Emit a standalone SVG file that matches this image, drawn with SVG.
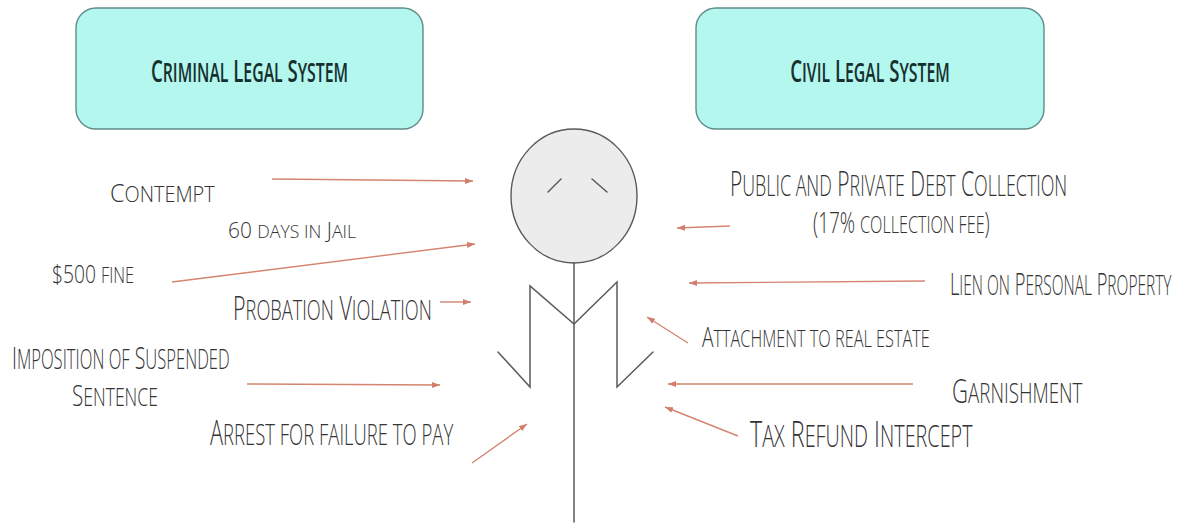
<svg xmlns="http://www.w3.org/2000/svg" width="1177" height="525" viewBox="0 0 1177 525">
<defs>
<style>
.box{fill:#b3f7ee;stroke:#5f8c89;stroke-width:1.4}
.title{font-family:"Open Sans","Liberation Sans",sans-serif;font-size:31px;font-weight:600;fill:#17302e;text-anchor:middle}
.lbl{font-family:"Open Sans","Liberation Sans",sans-serif;font-weight:300;fill:#333333}
.s{font-size:85%}
.fig{fill:none;stroke:#5a5a5a;stroke-width:1.5;stroke-linecap:round;stroke-linejoin:miter}
.arr{fill:none;stroke:#d48571;stroke-width:1.4;marker-end:url(#ah)}
</style>
<marker id="ah" markerUnits="userSpaceOnUse" markerWidth="9" markerHeight="7" refX="8" refY="3.5" orient="auto">
<path d="M0,0.5 L8,3.5 L0,6.5 z" fill="#cf7f6c"/>
</marker>
</defs>
<rect width="1177" height="525" fill="#ffffff"/>

<g id="criminal-legal-system">
<rect class="box" x="76" y="8" width="347" height="121" rx="20"/>
<text class="title" transform="translate(249.5,82) scale(0.6,1)">C<tspan class="s">RIMINAL</tspan> L<tspan class="s">EGAL</tspan> S<tspan class="s">YSTEM</tspan></text>
</g>

<g id="civil-legal-system">
<rect class="box" x="696" y="8" width="348" height="121" rx="20"/>
<text class="title" transform="translate(870,82) scale(0.6,1)">C<tspan class="s">IVIL</tspan> L<tspan class="s">EGAL</tspan> S<tspan class="s">YSTEM</tspan></text>
</g>

<g id="person">
<ellipse cx="574" cy="196" rx="63" ry="67" fill="#ececec" stroke="#5a5a5a" stroke-width="1.4"/>
<line class="fig" x1="548" y1="192" x2="561" y2="179"/>
<line class="fig" x1="592" y1="179" x2="607" y2="192"/>
<line class="fig" x1="574" y1="263" x2="574" y2="522"/>
<polyline class="fig" points="498,352 530,387 530,286 574,324 617,282 617,387 653,352"/>
</g>

<g id="labels">
<text class="lbl" transform="translate(110,202) scale(0.9,1)" font-size="26">C<tspan class="s">ONTEMPT</tspan></text>
<text class="lbl" transform="translate(228,238) scale(0.95,1)" font-size="22">60 <tspan class="s">DAYS IN</tspan> J<tspan class="s">AIL</tspan></text>
<text class="lbl" transform="translate(52,283) scale(0.77,1)" font-size="25">$500 <tspan class="s">FINE</tspan></text>
<text class="lbl" transform="translate(233,320) scale(0.65,1)" font-size="33">P<tspan class="s">ROBATION</tspan> V<tspan class="s">IOLATION</tspan></text>
<text class="lbl" transform="translate(12,369) scale(0.61,1)" font-size="32">I<tspan class="s">MPOSITION OF</tspan> S<tspan class="s">USPENDED</tspan></text>
<text class="lbl" transform="translate(72,406) scale(0.69,1)" font-size="30">S<tspan class="s">ENTENCE</tspan></text>
<text class="lbl" transform="translate(210,445) scale(0.64,1)" font-size="34">A<tspan class="s">RREST FOR FAILURE TO PAY</tspan></text>
<text class="lbl" transform="translate(730,196) scale(0.6,1)" font-size="35">P<tspan class="s">UBLIC AND</tspan> P<tspan class="s">RIVATE</tspan> D<tspan class="s">EBT</tspan> C<tspan class="s">OLLECTION</tspan></text>
<text class="lbl" transform="translate(813,233) scale(0.655,1)" font-size="29">(17% <tspan class="s">COLLECTION FEE</tspan>)</text>
<text class="lbl" transform="translate(950,295) scale(0.57,1)" font-size="32">L<tspan class="s">IEN ON</tspan> P<tspan class="s">ERSONAL</tspan> P<tspan class="s">ROPERTY</tspan></text>
<text class="lbl" transform="translate(702,347) scale(0.71,1)" font-size="27">A<tspan class="s">TTACHMENT TO REAL ESTATE</tspan></text>
<text class="lbl" transform="translate(952,403) scale(0.67,1)" font-size="33">G<tspan class="s">ARNISHMENT</tspan></text>
<text class="lbl" transform="translate(750,447) scale(0.63,1)" font-size="37">T<tspan class="s">AX</tspan> R<tspan class="s">EFUND</tspan> I<tspan class="s">NTERCEPT</tspan></text>
</g>

<g id="connectors">
<line class="arr" x1="272" y1="179" x2="473" y2="181"/>
<line class="arr" x1="172" y1="282" x2="475" y2="244"/>
<line class="arr" x1="440" y1="302" x2="471" y2="302"/>
<line class="arr" x1="247" y1="384" x2="440" y2="385"/>
<line class="arr" x1="472" y1="463" x2="527" y2="424"/>
<line class="arr" x1="730" y1="226" x2="677" y2="228"/>
<line class="arr" x1="925" y1="281" x2="689" y2="283"/>
<line class="arr" x1="688" y1="343" x2="647" y2="317"/>
<line class="arr" x1="913" y1="384" x2="668" y2="384"/>
<line class="arr" x1="738" y1="436" x2="665" y2="407"/>
</g>
</svg>
